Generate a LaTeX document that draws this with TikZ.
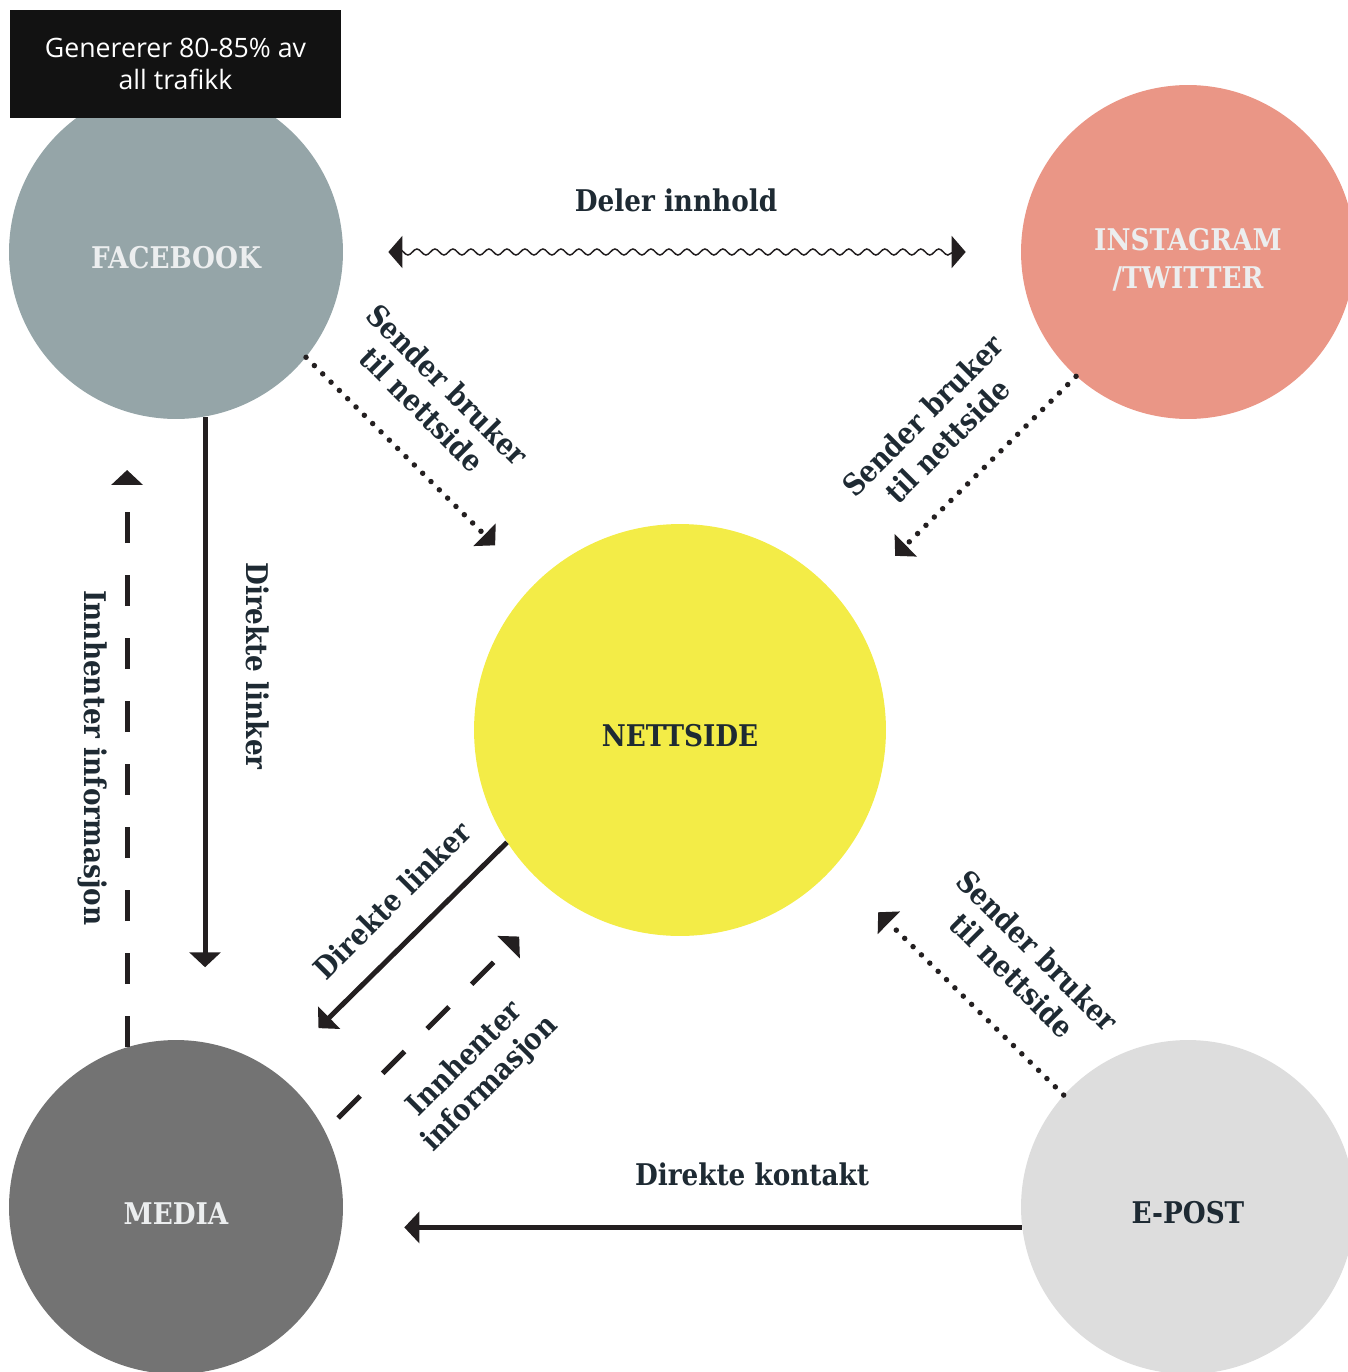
\documentclass[tikz,border=0pt]{standalone}
\usepackage{fontspec}
\setmainfont[FakeStretch=0.88]{DejaVu Serif}
\newfontfamily\notefont{Open Sans}
\usepackage{xcolor}
\usetikzlibrary{arrows.meta}
\usetikzlibrary{calc,decorations.pathmorphing}
\definecolor{fbgray}{RGB}{149,165,168}
\definecolor{instared}{RGB}{234,150,134}
\definecolor{netyellow}{RGB}{243,236,71}
\definecolor{mediagray}{RGB}{115,115,115}
\definecolor{epostgray}{RGB}{221,221,221}
\definecolor{ink}{RGB}{30,42,51}
\definecolor{lightink}{RGB}{236,238,239}
\definecolor{arrowink}{RGB}{35,31,32}
\tikzset{
  every node/.style={font=\bfseries\fontsize{17}{20}\selectfont, text=ink},
  link/.style={
    draw=arrowink,
    line width=0.1cm,
    -{Triangle[length=0.3cm, width=0.62cm]}
  },
  dots/.style={link, line width=0.11cm, line cap=round, dash pattern=on 0pt off 0.235cm},
  dashes/.style={link, dash pattern=on 0.62cm off 0.64cm}
}

\begin{document}
\begin{tikzpicture}[x=0.02cm, y=-0.02cm]
  \tikzset{
    hub/.style={
      circle,
      minimum size=6.68cm,
      inner sep=0pt,
      align=center,
      text height=0.68cm,
      font=\bfseries\fontsize{17}{21.5}\selectfont
    },
    note/.style={
      fill=black!93,
      text=white,
      minimum width=6.62cm,
      minimum height=2.18cm,
      align=center,
      font=\notefont\fontsize{15.2}{18.2}\selectfont
    },
    wave/.style={
      draw=arrowink,
      line width=0.03cm,
      {Triangle[length=0.28cm, width=0.64cm]}-{Triangle[length=0.28cm, width=0.64cm]},
      decorate,
      decoration={snake, amplitude=0.06cm, segment length=0.36cm, pre length=0.1cm, post length=0.1cm}
    }
  }
  \clip (0,0) rectangle (1348,1372);

  \node[hub, fill=fbgray, text=lightink] (fb) at (176,252) {FACEBOOK};
  \node[hub, fill=instared, text=lightink, text height=1.52cm] (insta) at (1188,252) {INSTAGRAM\\/TWITTER};
  \node[hub, fill=netyellow, minimum size=8.24cm] (net) at (680,730) {NETTSIDE};
  \node[hub, fill=mediagray, text=lightink] (media) at (176,1207) {MEDIA};
  \node[hub, fill=epostgray] (epost) at (1188,1207) {E-POST};
  \node[note] (traffic) at (175.5,64) {Genererer 80-85\% av\\all trafikk};

  \draw[wave] ($(fb.east)+(45,0)$) -- ($(insta.west)-(55,0)$);
  \draw[link, shorten >=1.5cm] (fb.-80) -- (media.80);
  \draw[dashes, shorten >=1.16cm] (media.107) -- (fb.-107);
  \draw[dots, shorten >=1.1cm] (fb.-39.5) -- (net.135);
  \draw[dots, shorten >=1.42cm] (insta.-132) -- (net.37);
  \draw[dots, shorten >=1.26cm] (epost.138) -- (net.-42);
  \draw[link, shorten >=1.24cm] (net.-147) -- (media.54);
  \draw[dashes, shorten <=0.37cm, shorten >=1.12cm] (media.27) -- (net.-126);
  \draw[link, shorten >=1.22cm] (epost.-173.5) -- (epost.-173.5 -| media.east);

  \node (share) at (676,200) {Deler innhold};
  \node (contact) at (752,1174) {Direkte kontakt};
  \node[rotate=-90] (fblinks) at (258,666) {Direkte linker};
  \node[rotate=-90] (fbinfo) at (93,758) {Innhenter informasjon};
  \node[rotate=-45, align=center] (fbsend) at (435,397) {Sender bruker\\til nettside};
  \node[rotate=45, align=center] (instasend) at (935,428) {Sender bruker\\til nettside};
  \node[rotate=-45, align=center] (epostsend) at (1025,963) {Sender bruker\\til nettside};
  \node[rotate=45] (netlinks) at (392,900) {Direkte linker};
  \node[rotate=45, align=center] (netinfo) at (478,1072) {Innhenter\\informasjon};
\end{tikzpicture}
\end{document}
